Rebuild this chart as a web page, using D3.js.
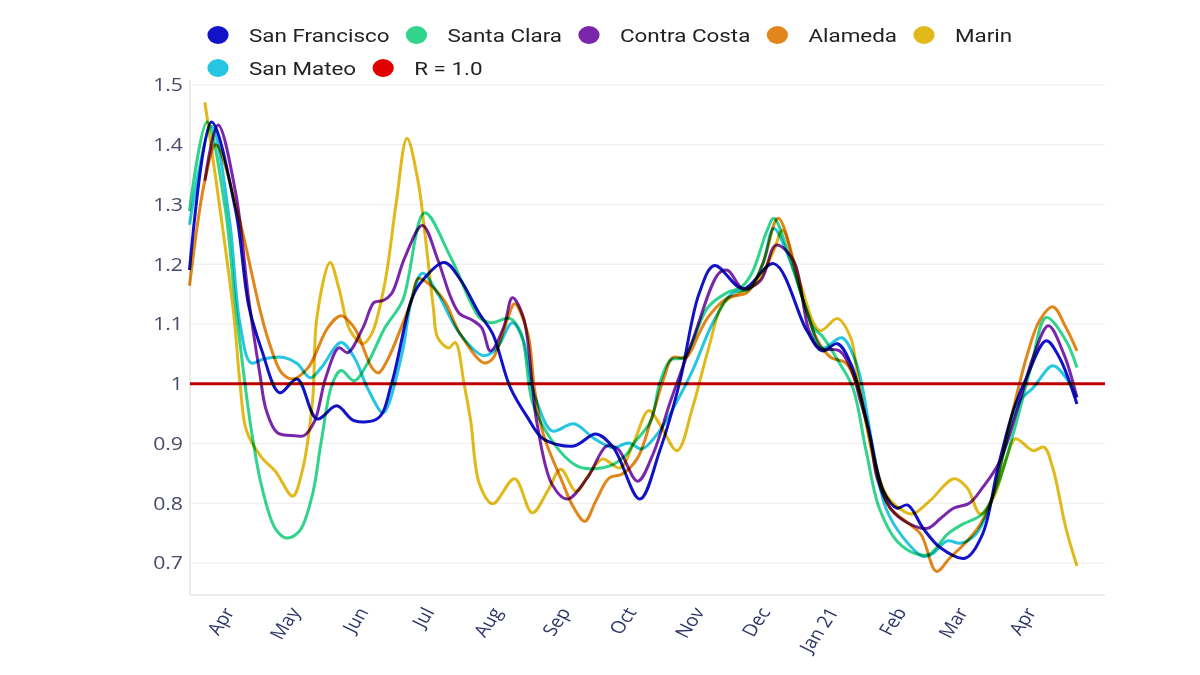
<!DOCTYPE html>
<html>
<head>
<meta charset="utf-8">
<script src="https://cdn.jsdelivr.net/npm/d3@7"></script>
<style>
body { margin: 0; background: #fff; }
#chart { width: 1200px; height: 675px; }
.line { fill: none; stroke-width: 3; mix-blend-mode: multiply; stroke-linejoin: round; }
.ytick { font-family: "Open Sans", sans-serif; font-size: 18px; fill: #474a68; }
.xtick { font-family: "Open Sans", sans-serif; font-size: 17px; fill: #2f3566; }
.legend { font-family: Roboto, sans-serif; font-size: 19px; fill: #222; }
</style>
</head>
<body>
<div id="chart"></div>
<script>

// day = days since 1 Apr 2020, value = R
var sanFrancisco = [[-18,1.19],[-8,1.438],[3,1.29],[9,1.13],[15,1.055],[23,0.985],[31,1.008],[40,0.941],[49,0.963],[57,0.938],[68,0.943],[74,1.0],[83,1.14],[87,1.168],[98,1.203],[105,1.176],[114,1.117],[120,1.084],[128,0.994],[136,0.943],[143,0.908],[157,0.896],[167,0.916],[175,0.893],[187,0.807],[196,0.887],[205,1.0],[214,1.151],[221,1.198],[234,1.159],[248,1.201],[263,1.089],[270,1.055],[277,1.067],[283,1.034],[290,0.943],[298,0.82],[304,0.792],[309,0.797],[316,0.758],[324,0.725],[335,0.708],[343,0.748],[350,0.859],[357,0.955],[363,1.01],[372,1.072],[378,1.044],[386,0.966]];

var santaClara = [[-18,1.289],[-10,1.438],[-2,1.3],[3,1.13],[10,0.926],[15,0.826],[21,0.758],[26,0.742],[32,0.753],[38,0.815],[42,0.904],[47,1.0],[51,1.022],[57,1.005],[63,1.034],[71,1.094],[79,1.139],[89,1.286],[101,1.211],[114,1.111],[119,1.102],[128,1.109],[133,1.084],[138,0.971],[145,0.916],[155,0.871],[161,0.859],[173,0.862],[181,0.882],[184,0.899],[192,0.938],[196,1.0],[201,1.04],[207,1.044],[218,1.128],[227,1.153],[233,1.161],[238,1.185],[245,1.257],[248,1.277],[257,1.19],[266,1.094],[270,1.08],[278,1.034],[284,0.993],[290,0.888],[296,0.792],[304,0.737],[313,0.715],[319,0.715],[327,0.748],[334,0.765],[343,0.782],[350,0.832],[357,0.916],[365,1.027],[372,1.111],[381,1.072],[386,1.027]];

var contraCosta = [[-11,1.34],[-5,1.433],[3,1.32],[9,1.14],[14,1.017],[17,0.955],[22,0.918],[30,0.913],[34,0.913],[39,0.938],[44,1.01],[50,1.06],[54,1.052],[61,1.094],[66,1.136],[70,1.139],[74,1.151],[80,1.211],[88,1.265],[95,1.208],[101,1.144],[105,1.117],[111,1.106],[115,1.094],[119,1.055],[125,1.094],[129,1.144],[134,1.111],[138,1.0],[140,0.938],[147,0.832],[154,0.807],[163,0.842],[172,0.896],[177,0.891],[186,0.837],[193,0.882],[201,0.971],[211,1.072],[223,1.185],[227,1.19],[234,1.159],[242,1.173],[249,1.232],[257,1.206],[264,1.089],[269,1.059],[278,1.055],[284,1.017],[287,0.977],[292,0.909],[295,0.842],[301,0.792],[309,0.767],[318,0.758],[324,0.775],[330,0.792],[337,0.8],[343,0.826],[351,0.871],[360,0.971],[366,1.044],[373,1.097],[380,1.05],[386,0.977]];

var alameda = [[-18,1.164],[-11,1.34],[-6,1.4],[4,1.285],[14,1.125],[18,1.072],[24,1.018],[29,1.008],[36,1.027],[45,1.094],[51,1.114],[57,1.094],[65,1.027],[68,1.018],[72,1.039],[79,1.1],[83,1.139],[86,1.176],[90,1.17],[98,1.139],[105,1.085],[116,1.035],[120,1.042],[127,1.111],[130,1.134],[136,1.084],[139,0.993],[143,0.916],[151,0.842],[157,0.792],[162,0.77],[167,0.804],[173,0.842],[179,0.849],[186,0.876],[192,0.938],[198,1.01],[202,1.044],[208,1.044],[214,1.084],[218,1.111],[227,1.144],[236,1.153],[243,1.201],[250,1.277],[261,1.144],[268,1.072],[274,1.044],[281,1.034],[287,0.983],[295,0.849],[301,0.792],[309,0.767],[315,0.748],[322,0.686],[328,0.708],[336,0.737],[342,0.765],[348,0.815],[355,0.926],[363,1.044],[369,1.106],[375,1.129],[381,1.094],[386,1.055]];

var marin = [[-11,1.471],[2,1.121],[5,1.0],[8,0.921],[15,0.876],[21,0.854],[29,0.812],[33,0.849],[38,0.971],[40,1.111],[46,1.203],[50,1.16],[55,1.09],[61,1.067],[65,1.084],[71,1.17],[76,1.3],[81,1.411],[86,1.34],[89,1.257],[93,1.128],[95,1.077],[100,1.06],[103,1.069],[107,1.0],[110,0.938],[114,0.832],[120,0.799],[130,0.841],[138,0.784],[145,0.82],[151,0.857],[158,0.82],[164,0.849],[170,0.874],[178,0.859],[184,0.899],[191,0.955],[196,0.933],[204,0.888],[211,0.96],[218,1.055],[225,1.134],[233,1.153],[240,1.168],[248,1.223],[252,1.257],[260,1.168],[269,1.089],[277,1.109],[283,1.077],[286,1.017],[293,0.883],[299,0.815],[305,0.792],[311,0.782],[319,0.804],[330,0.841],[336,0.826],[342,0.782],[348,0.809],[354,0.876],[358,0.908],[366,0.888],[371,0.894],[375,0.859],[381,0.758],[386,0.695]];

var sanMateo = [[-18,1.266],[-8,1.431],[0,1.28],[5,1.1],[10,1.035],[16,1.042],[25,1.044],[31,1.034],[37,1.01],[42,1.027],[51,1.069],[57,1.044],[63,0.993],[70,0.951],[72,0.96],[79,1.055],[83,1.139],[88,1.185],[95,1.151],[105,1.084],[116,1.047],[122,1.06],[129,1.102],[134,1.072],[138,0.993],[140,0.971],[147,0.921],[157,0.933],[166,0.909],[175,0.893],[182,0.901],[188,0.891],[196,0.921],[204,0.971],[211,1.022],[220,1.1],[229,1.151],[237,1.159],[243,1.201],[248,1.26],[255,1.21],[263,1.122],[270,1.06],[279,1.077],[285,1.04],[288,1.0],[293,0.895],[299,0.792],[307,0.742],[316,0.711],[320,0.715],[327,0.737],[333,0.733],[340,0.748],[346,0.792],[354,0.904],[360,0.971],[366,0.993],[375,1.03],[381,1.01],[386,0.977]];

var referenceR = 1.0;

var seriesNames = ["San Francisco", "Santa Clara", "Contra Costa", "Alameda", "Marin", "San Mateo"];
var seriesData = [sanFrancisco, santaClara, contraCosta, alameda, marin, sanMateo];
var seriesColors = ["#1212c8", "#30d48c", "#7a26aa", "#e0861a", "#e2b91a", "#26c6e2"];

var yTicks = [0.7, 0.8, 0.9, 1.0, 1.1, 1.2, 1.3, 1.4, 1.5];
var monthTicks = ["2020-04-01","2020-05-01","2020-06-01","2020-07-01","2020-08-01","2020-09-01","2020-10-01","2020-11-01","2020-12-01","2021-01-01","2021-02-01","2021-03-01","2021-04-01"];
var monthLabels = ["Apr","May","Jun","Jul","Aug","Sep","Oct","Nov","Dec","Jan 21","Feb","Mar","Apr"];

// the original picture is a little stretched sideways
var stretch = 1.18;

var width = 1200, height = 675;
var svg = d3.select("#chart").append("svg")
    .attr("width", width)
    .attr("height", height);

var base = new Date(2020, 3, 1);
var parseDay = d3.timeParse("%Y-%m-%d");

var xScale = d3.scaleTime()
    .domain([d3.timeDay.offset(base, -18), d3.timeDay.offset(base, 399)])
    .range([189.5, 1105.5]);

var yScale = d3.scaleLinear()
    .domain([0.7, 1.5])
    .range([563, 85]);

var plotLeft = 190, plotRight = 1105, plotTop = 80, plotBottom = 595;

// grid
svg.selectAll(".grid")
    .data(yTicks)
    .enter()
    .append("line")
        .attr("x1", plotLeft)
        .attr("x2", plotRight)
        .attr("y1", function(d) { return yScale(d); })
        .attr("y2", function(d) { return yScale(d); })
        .attr("stroke", "#ececec")
        .attr("stroke-width", 1.2);

svg.append("line")
    .attr("x1", plotLeft).attr("x2", plotLeft)
    .attr("y1", plotTop).attr("y2", plotBottom)
    .attr("stroke", "#e4e4e4").attr("stroke-width", 1.5);
svg.append("line")
    .attr("x1", plotLeft).attr("x2", plotRight)
    .attr("y1", plotBottom).attr("y2", plotBottom)
    .attr("stroke", "#e4e4e4").attr("stroke-width", 1.5);

// y labels
svg.selectAll(".ytick")
    .data(yTicks)
    .enter()
    .append("text")
        .attr("class", "ytick")
        .attr("text-anchor", "end")
        .attr("dy", "0.36em")
        .attr("transform", function(d) {
            return "translate(183," + yScale(d) + ") scale(" + stretch + ",1)";
        })
        .text(function(d) { return d === 1 ? "1" : d3.format(".1f")(d); });

// x labels
svg.selectAll(".xtick")
    .data(monthTicks)
    .enter()
    .append("text")
        .attr("class", "xtick")
        .attr("text-anchor", "end")
        .attr("transform", function(d) {
            return "translate(" + (xScale(parseDay(d)) + 6) + ",612) scale(" + stretch + ",1) rotate(-60)";
        })
        .text(function(d, i) { return monthLabels[i]; });

var line = d3.line()
    .x(function(d) { return xScale(d3.timeDay.offset(base, d[0])); })
    .y(function(d) { return yScale(d[1]); })
    .curve(d3.curveCatmullRom.alpha(0.5));

var lines = svg.append("g");

lines.selectAll("path")
    .data(seriesData)
    .enter()
    .append("path")
        .attr("class", "line")
        .attr("stroke", function(d, i) { return seriesColors[i]; })
        .attr("d", line);

lines.append("line")
    .attr("class", "line")
    .attr("x1", plotLeft)
    .attr("x2", plotRight)
    .attr("y1", yScale(referenceR))
    .attr("y2", yScale(referenceR))
    .attr("stroke", "#c80000");

// legend
var legendItems = seriesNames.map(function(n, i) { return { name: n, color: seriesColors[i] }; });
legendItems.push({ name: "R = 1.0", color: "#e00000" });

var rows = [legendItems.slice(0, 5), legendItems.slice(5)];
var rowY = [35, 68];

rows.forEach(function(row, r) {
    var cx = 218;
    row.forEach(function(item) {
        svg.append("ellipse")
            .attr("cx", cx)
            .attr("cy", rowY[r])
            .attr("rx", 9 * stretch)
            .attr("ry", 9)
            .attr("fill", item.color);
        var t = svg.append("text")
            .attr("class", "legend")
            .attr("dy", "0.35em")
            .attr("transform", "translate(" + (cx + 31) + "," + rowY[r] + ") scale(" + stretch + ",1)")
            .text(item.name);
        cx = cx + 31 + t.node().getComputedTextLength() * stretch + 27;
    });
});

</script>
</body>
</html>
